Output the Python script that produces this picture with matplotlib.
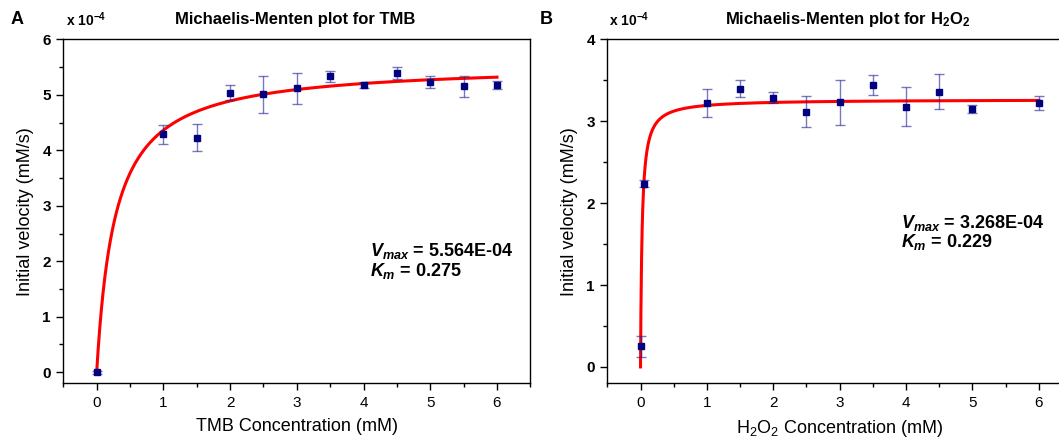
import numpy as np
import matplotlib
matplotlib.use('Agg')
import matplotlib.pyplot as plt
from matplotlib.ticker import MultipleLocator

plt.rcParams['font.family'] = ['Liberation Sans', 'DejaVu Sans']
plt.rcParams['mathtext.fontset'] = 'custom'
plt.rcParams['mathtext.it'] = 'Liberation Sans:italic:bold'
plt.rcParams['mathtext.rm'] = 'Liberation Sans'

# TMB data (x 10^-4 mM/s)
tmb_conc = [0, 1, 1.5, 2, 2.5, 3, 3.5, 4, 4.5, 5, 5.5, 6]
tmb_vel = [0.0, 4.29, 4.23, 5.04, 5.01, 5.12, 5.34, 5.18, 5.39, 5.24, 5.16, 5.18]
tmb_err = [0.03, 0.17, 0.25, 0.14, 0.33, 0.28, 0.10, 0.06, 0.11, 0.11, 0.19, 0.08]
tmb_vmax = 5.564
tmb_km = 0.275

# H2O2 data (x 10^-4 mM/s)
h2o2_conc = [0, 0.05, 1, 1.5, 2, 2.5, 3, 3.5, 4, 4.5, 5, 6]
h2o2_vel = [0.25, 2.24, 3.22, 3.40, 3.29, 3.12, 3.23, 3.44, 3.18, 3.36, 3.15, 3.22]
h2o2_err = [0.13, 0.04, 0.17, 0.10, 0.07, 0.19, 0.27, 0.12, 0.235, 0.215, 0.05, 0.085]
h2o2_vmax = 3.268
h2o2_km_curve = 0.023  # curve as drawn in the figure
h2o2_km_label = '0.229'

fig = plt.figure(figsize=(10.59, 4.38), dpi=100)
ax1 = fig.add_axes([0.0598, 0.1249, 0.4410, 0.785])
ax2 = fig.add_axes([0.5735, 0.1249, 0.4388, 0.785])

ecol = (0.12, 0.12, 0.58, 0.6)


def panel(ax, conc, vel, err, vmax, km, ymax):
    xs = np.linspace(0, 6, 2000)
    ax.plot(xs, vmax * xs / (km + xs), color='red', lw=2.2, zorder=2)
    ax.errorbar(conc, vel, yerr=err, fmt='s', color='#000080', ms=4.5,
                ecolor=ecol, elinewidth=1.0, capsize=3.5, capthick=1.0, zorder=3)
    ax.set_xlim(-0.5, 6.5)
    ax.set_ylim(-0.2, ymax)
    ax.xaxis.set_major_locator(MultipleLocator(1))
    ax.xaxis.set_minor_locator(MultipleLocator(0.5))
    ax.yaxis.set_major_locator(MultipleLocator(1))
    ax.yaxis.set_minor_locator(MultipleLocator(0.5))
    ax.tick_params(which='major', direction='out', length=5, width=1, labelsize=11, pad=4)
    ax.tick_params(which='minor', direction='out', length=3, width=1)
    ax.tick_params(top=False, right=False, which='both')
    for lab in ax.get_yticklabels():
        lab.set_fontweight('bold')
    for sp in ax.spines.values():
        sp.set_linewidth(1.0)
    ax.set_ylabel('Initial velocity (mM/s)', fontsize=13, labelpad=6)


panel(ax1, tmb_conc, tmb_vel, tmb_err, tmb_vmax, tmb_km, 6)
panel(ax2, h2o2_conc, h2o2_vel, h2o2_err, h2o2_vmax, h2o2_km_curve, 4)

ax1.set_xlabel('TMB Concentration (mM)', fontsize=13, labelpad=6)
ax2.set_xlabel(r'H$_\mathregular{2}$O$_\mathregular{2}$ Concentration (mM)', fontsize=13, labelpad=6)

fig.text(0.0095, 0.955, 'A', fontsize=13, fontweight='bold', va='center')
fig.text(0.510, 0.955, 'B', fontsize=13, fontweight='bold', va='center')
fig.text(0.062, 0.955, r'x 10$^{\mathregular{-4}}$', fontsize=10, fontweight='bold', va='center')
fig.text(0.575, 0.955, r'x 10$^{\mathregular{-4}}$', fontsize=10, fontweight='bold', va='center')
fig.text(0.279, 0.955, 'Michaelis-Menten plot for TMB', fontsize=12, fontweight='bold',
         ha='center', va='center')
fig.text(0.800, 0.955, r'Michaelis-Menten plot for H$_\mathregular{2}$O$_\mathregular{2}$',
         fontsize=12, fontweight='bold', ha='center', va='center')

ax1.text(4.1, 2.19, r'$V_{max}$ = %.3fE-04' % tmb_vmax, fontsize=13, fontweight='bold', va='center')
ax1.text(4.1, 1.83, r'$K_{m}$ = %.3f' % tmb_km, fontsize=13, fontweight='bold', va='center')
ax2.text(3.92, 1.76, r'$V_{max}$ = %.3fE-04' % h2o2_vmax, fontsize=13, fontweight='bold', va='center')
ax2.text(3.92, 1.52, r'$K_{m}$ = ' + h2o2_km_label, fontsize=13, fontweight='bold', va='center')

fig.savefig('out.png', dpi=100)
